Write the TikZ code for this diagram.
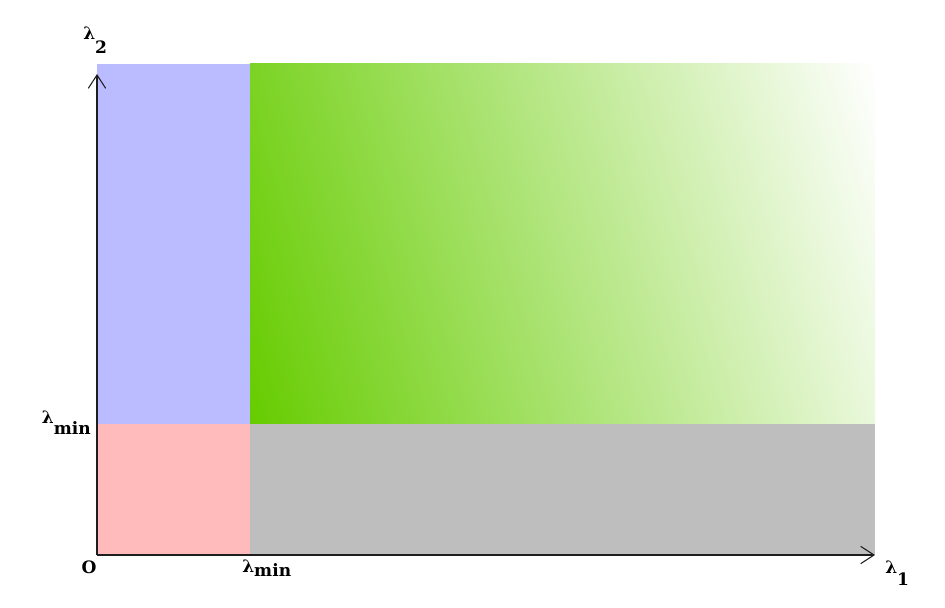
\documentclass[tikz,border=0pt]{standalone}
\usepackage{fontspec}
\setmainfont{DejaVu Serif}
\usetikzlibrary{arrows.meta}

\definecolor{regblue}{RGB}{187,187,255}
\definecolor{regpink}{RGB}{255,187,187}
\definecolor{reggray}{RGB}{190,190,190}
\definecolor{reggreen}{RGB}{102,204,0}
\definecolor{axisline}{RGB}{30,30,30}

% lambda with a lowered index
\newcommand{\lamlbl}[2]{λ\raisebox{#2}{#1}}

\begin{document}
\begin{tikzpicture}[x=0.75pt, y=0.75pt, >={Straight Barb[length=10pt, width=13pt]},
  font=\fontsize{12.8}{15}\selectfont\bfseries]
  \useasboundingbox (0,0) rectangle (945,607);

  % Corners of the regions
  \coordinate (O) at (97,52); % origin
  \coordinate (M) at (250,183); % (lambda_min, lambda_min)
  \coordinate (T) at (875,543); % top right corner
  \coordinate (X) at (875,52); % tip of lambda_1 axis
  \coordinate (Y) at (97,533); % tip of lambda_2 axis

  % Flat regions
  \fill[regpink] (O) rectangle (M);
  \fill[regblue] (O |- M) rectangle (M |- T);
  \fill[reggray] (M |- O) rectangle (T |- M);

  % Shaded region, fading towards the top right corner
  \begin{scope}
    \clip (M) rectangle (T);
    \begin{scope}[transform canvas={rotate around={16:(M)}}]
      \shade[left color=reggreen, right color=white] (M) ++(0,-220) rectangle ++(700,640);
    \end{scope}
  \end{scope}

  % Axes
  \draw[axisline, line width=0.8pt, ->] (O) -- (X);
  \draw[axisline, line width=0.8pt, ->] (O) -- (Y);

  % Labels
  \node[anchor=base west, inner sep=0] (l2) at (83,567) {\lamlbl{2}{-10.5pt}};
  \node[anchor=base east, inner sep=0] (lmin2) at (91,183) {\lamlbl{min}{-7.5pt}};
  \node[anchor=base, inner sep=0] (o) at (89,34) {O};
  \node[anchor=base west, inner sep=0] (lmin1) at (242,35) {\lamlbl{min}{-3.5pt}};
  \node[anchor=base west, inner sep=0] (l1) at (885,34) {\lamlbl{1}{-9pt}};
\end{tikzpicture}
\end{document}
